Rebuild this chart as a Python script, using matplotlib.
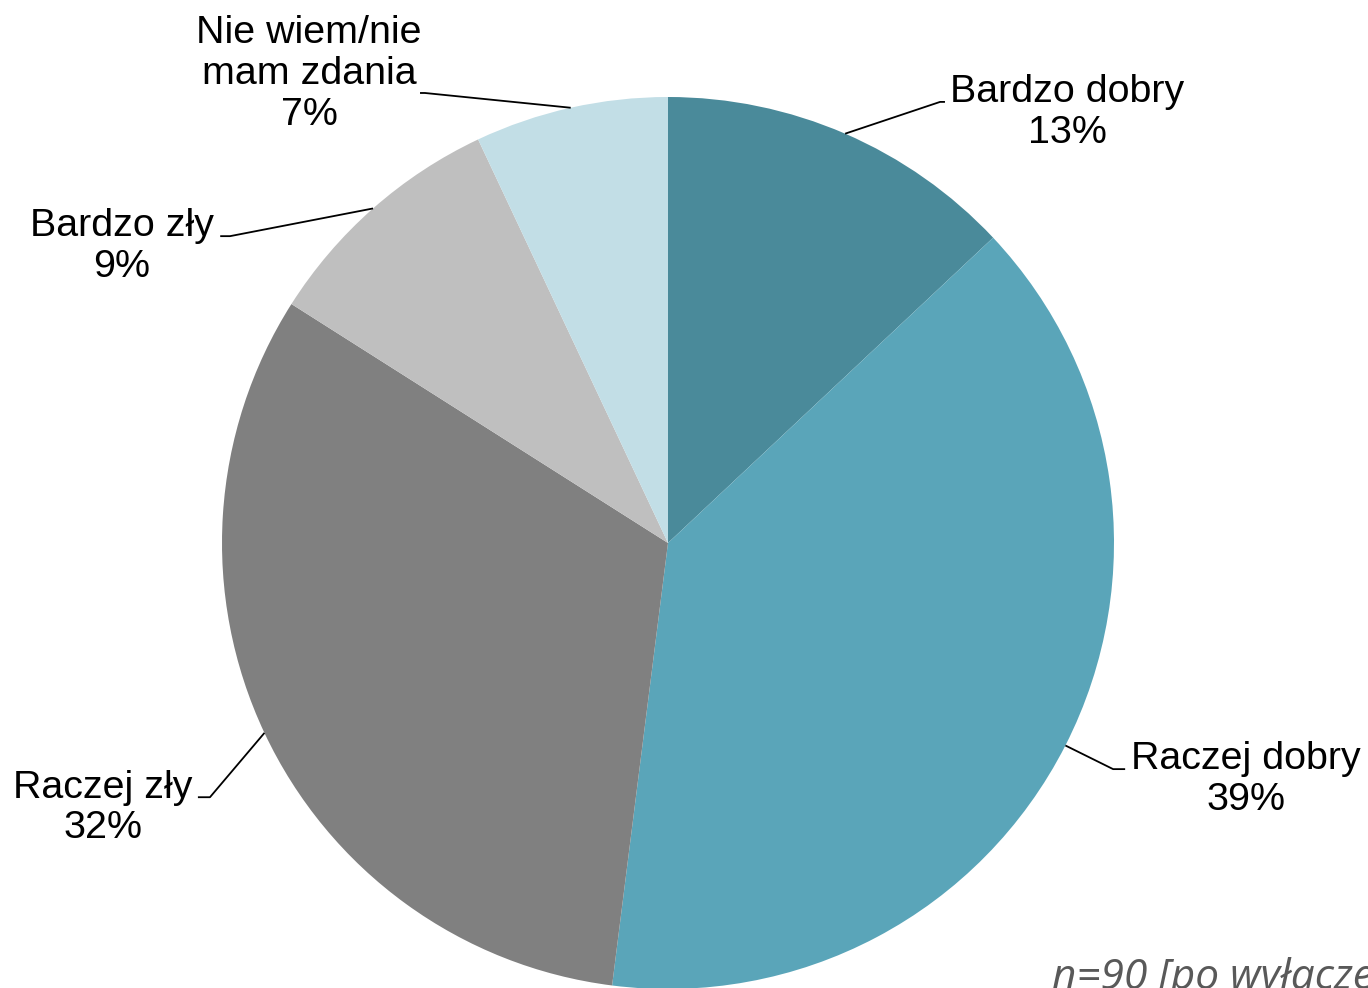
import numpy as np
import matplotlib
matplotlib.use('Agg')
import matplotlib.pyplot as plt

# dane
kategorie = ['Bardzo dobry', 'Raczej dobry', 'Raczej zły', 'Bardzo zły', 'Nie wiem/nie\nmam zdania']
procenty = [13, 39, 32, 9, 7]
kolory = ['#4a8a9a', '#5aa5b9', '#808080', '#bfbfbf', '#c2dee6']

# pozycje etykiet (srodek tekstu) i zalamania linii, w jednostkach promienia
pozycje_tekstu = [(0.895, 0.966), (1.296, -0.531), (-1.267, -0.594), (-1.224, 0.664), (-0.805, 1.052)]
zalamania = [((0.610, 0.989), (0.621, 0.989)),
             ((0.998, -0.507), (1.025, -0.507)),
             ((-1.027, -0.570), (-1.054, -0.570)),
             ((-0.982, 0.688), (-1.004, 0.688)),
             ((-0.545, 1.009), (-0.556, 1.009))]

plt.rcParams['font.family'] = ['Liberation Sans', 'DejaVu Sans']

fig = plt.figure(figsize=(13.68, 9.88), dpi=100)
ax = fig.add_axes([0, 0, 1, 1])

wedges, _ = ax.pie(procenty, colors=kolory, startangle=90, counterclock=False,
                   radius=1, wedgeprops=dict(linewidth=0))

for w, nazwa, p, txt, (e1, e2) in zip(wedges, kategorie, procenty, pozycje_tekstu, zalamania):
    kat = np.deg2rad((w.theta1 + w.theta2) / 2)
    x0, y0 = np.cos(kat), np.sin(kat)
    ax.plot([x0, e1[0], e2[0]], [y0, e1[1], e2[1]], color='black', lw=1.3, solid_capstyle='butt')
    ax.text(txt[0], txt[1], f'{nazwa}\n{p}%', ha='center', va='center', fontsize=28.4,
            linespacing=1.17, color='black')

ax.set_aspect('auto')
ax.set_xlim(-668 / 446, (1368 - 668) / 446)
ax.set_ylim(-(988 - 543) / 446, 543 / 446)
ax.axis('off')

# przypis przyciety przy prawej krawedzi, jak w oryginale
fig.text(1052 / 1368, -1 / 988, 'n=90 [po wyłączeniu]', ha='left', va='baseline',
         fontsize=30.5, style='italic', color='#595959', family=['Open Sans', 'DejaVu Sans'])

fig.savefig('out.png', dpi=100)
